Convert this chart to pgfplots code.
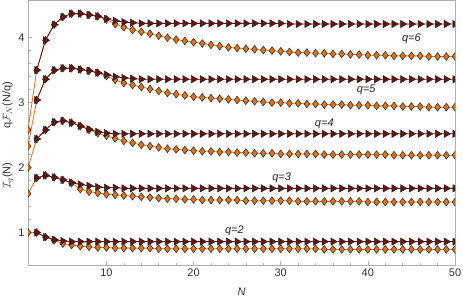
\documentclass[border=0pt]{standalone}
\usepackage{fontspec}
\setmainfont{Liberation Sans}
\usepackage{pgfplots}
\usepackage{pgfplotstable}
\pgfplotsset{compat=1.18}
\definecolor{tri}{RGB}{105,18,12}
\definecolor{dia}{RGB}{225,115,20}
\definecolor{framec}{RGB}{175,175,175}
\pgfplotstableread{
N T2 D2 T3 D3 T4 D4 T5 D5 T6 D6
1 nan 1.00 nan 1.60 nan 2.00 nan 2.33 nan 2.58
2 1.00 1.00 1.84 1.84 2.44 2.44 3.04 3.04 3.50 3.50
3 0.93 0.93 1.88 1.88 2.58 2.58 3.36 3.36 3.96 3.96
4 0.89 0.88 1.85 1.85 2.70 2.70 3.50 3.50 4.20 4.20
5 0.87 0.83 1.81 1.81 2.72 2.72 3.53 3.53 4.32 4.32
6 0.86 0.81 1.77 1.76 2.69 2.69 3.53 3.53 4.37 4.37
7 0.86 0.79 1.74 1.67 2.64 2.64 3.51 3.51 4.37 4.37
8 0.86 0.78 1.72 1.63 2.59 2.58 3.49 3.49 4.35 4.35
9 0.86 0.77 1.70 1.61 2.55 2.53 3.46 3.46 4.33 4.33
10 0.86 0.77 1.69 1.59 2.53 2.49 3.43 3.41 4.29 4.28
11 0.86 0.76 1.69 1.58 2.52 2.45 3.40 3.35 4.26 4.21
12 0.86 0.76 1.68 1.57 2.52 2.41 3.38 3.30 4.24 4.16
13 0.86 0.76 1.68 1.56 2.52 2.38 3.37 3.27 4.23 4.12
14 0.86 0.76 1.68 1.55 2.52 2.35 3.36 3.24 4.22 4.09
15 0.86 0.76 1.68 1.54 2.52 2.33 3.36 3.21 4.22 4.06
16 0.86 0.75 1.68 1.53 2.52 2.31 3.36 3.18 4.22 4.03
17 0.86 0.75 1.68 1.52 2.52 2.29 3.36 3.15 4.22 4.00
18 0.86 0.75 1.68 1.52 2.52 2.28 3.36 3.13 4.22 3.97
19 0.86 0.75 1.68 1.51 2.52 2.27 3.36 3.11 4.22 3.95
20 0.86 0.75 1.68 1.51 2.52 2.26 3.36 3.09 4.22 3.93
21 0.86 0.75 1.68 1.50 2.52 2.25 3.36 3.08 4.22 3.91
22 0.86 0.75 1.68 1.50 2.52 2.25 3.36 3.07 4.22 3.89
23 0.86 0.75 1.68 1.50 2.52 2.24 3.36 3.06 4.22 3.87
24 0.86 0.75 1.68 1.50 2.52 2.24 3.36 3.05 4.22 3.85
25 0.86 0.75 1.68 1.50 2.52 2.23 3.36 3.04 4.22 3.84
26 0.86 0.75 1.68 1.49 2.52 2.23 3.36 3.03 4.22 3.83
27 0.86 0.75 1.68 1.49 2.52 2.22 3.36 3.02 4.22 3.82
28 0.86 0.75 1.68 1.49 2.52 2.22 3.36 3.01 4.22 3.81
29 0.86 0.75 1.68 1.49 2.52 2.22 3.36 3.00 4.22 3.80
30 0.86 0.75 1.68 1.49 2.52 2.21 3.36 3.00 4.22 3.79
31 0.86 0.75 1.68 1.49 2.52 2.21 3.36 2.99 4.21 3.78
32 0.86 0.75 1.68 1.48 2.52 2.21 3.36 2.99 4.21 3.77
33 0.86 0.75 1.68 1.48 2.52 2.21 3.36 2.98 4.21 3.77
34 0.86 0.75 1.68 1.48 2.52 2.21 3.36 2.98 4.21 3.76
35 0.86 0.74 1.68 1.48 2.52 2.20 3.36 2.97 4.21 3.76
36 0.86 0.74 1.68 1.48 2.52 2.20 3.36 2.97 4.21 3.75
37 0.86 0.74 1.68 1.48 2.52 2.20 3.36 2.97 4.21 3.75
38 0.86 0.74 1.68 1.48 2.52 2.20 3.36 2.96 4.21 3.74
39 0.86 0.74 1.68 1.48 2.52 2.20 3.36 2.96 4.21 3.74
40 0.86 0.74 1.68 1.47 2.52 2.20 3.36 2.96 4.21 3.73
41 0.86 0.74 1.68 1.47 2.52 2.20 3.36 2.95 4.21 3.73
42 0.86 0.74 1.68 1.47 2.52 2.20 3.36 2.95 4.21 3.73
43 0.86 0.74 1.68 1.47 2.52 2.19 3.36 2.95 4.21 3.72
44 0.86 0.74 1.68 1.47 2.52 2.19 3.36 2.94 4.21 3.72
45 0.86 0.74 1.68 1.47 2.52 2.19 3.36 2.94 4.21 3.72
46 0.86 0.74 1.68 1.47 2.52 2.19 3.36 2.94 4.21 3.72
47 0.86 0.74 1.68 1.47 2.52 2.19 3.36 2.93 4.21 3.71
48 0.86 0.74 1.68 1.47 2.52 2.19 3.36 2.93 4.21 3.71
49 0.86 0.74 1.68 1.47 2.52 2.19 3.36 2.93 4.21 3.71
50 0.86 0.74 1.68 1.47 2.52 2.19 3.36 2.93 4.21 3.71
}\data
\begin{document}
\begin{tikzpicture}
\begin{axis}[
  scale only axis, width=427pt, height=265pt,
  xmin=1, xmax=50, ymin=0.5, ymax=4.58,
  clip marker paths=true,
  axis line style={framec, line width=0.9pt},
  xtick={10,20,30,40,50}, ytick={1,2,3,4},
  minor x tick num=4, minor y tick num=4,
  tick align=inside, tick pos=left,
  major tick length=4pt, minor tick length=2.5pt,
  every tick/.style={framec, line width=0.6pt},
  /pgf/number format/assume math mode=true,
  tick label style={font=\fontsize{11}{13}\selectfont, text=black!80},
  xlabel={\textit{N}},
  xlabel style={at={(axis description cs:0.5,-0.1)}, anchor=center, font=\fontsize{11}{13}\selectfont, text=black!80},
  ylabel={$\mathcal{I}_q$(N)\hspace{34pt}q$\mathcal{F}_N$(N/q)},
  ylabel style={at={(axis description cs:-0.047,0.49)}, anchor=center, font=\fontsize{11}{13}\selectfont, text=black!80},
  diam/.style={dia, line width=0.8pt, mark=diamond*, mark size=3.9pt, mark options={fill=dia, draw=black!85, line width=0.5pt}},
  tria/.style={tri, line width=0.8pt, mark=triangle*, mark size=4.2pt, mark options={rotate=-90, fill=tri, draw=black!85, line width=0.5pt}},
]
\addplot[diam] table[x=N, y=D2] {\data};
\addplot[diam] table[x=N, y=D3] {\data};
\addplot[diam] table[x=N, y=D4] {\data};
\addplot[diam] table[x=N, y=D5] {\data};
\addplot[diam] table[x=N, y=D6] {\data};
\addplot[tria] table[x=N, y=T2] {\data};
\addplot[tria] table[x=N, y=T3] {\data};
\addplot[tria] table[x=N, y=T4] {\data};
\addplot[tria] table[x=N, y=T5] {\data};
\addplot[tria] table[x=N, y=T6] {\data};
\node[font=\fontsize{11}{13}\selectfont\itshape, text=black!85] at (axis cs:45,3.98) {q=6};
\node[font=\fontsize{11}{13}\selectfont\itshape, text=black!85] at (axis cs:39.8,3.20) {q=5};
\node[font=\fontsize{11}{13}\selectfont\itshape, text=black!85] at (axis cs:35,2.68) {q=4};
\node[font=\fontsize{11}{13}\selectfont\itshape, text=black!85] at (axis cs:30.1,1.85) {q=3};
\node[font=\fontsize{11}{13}\selectfont\itshape, text=black!85] at (axis cs:24.7,1.02) {q=2};
\end{axis}
\pgfresetboundingbox
\path[use as bounding box] (current axis.south west) ++(-28pt,-35pt) rectangle ([xshift=8pt]current axis.north east);
\end{tikzpicture}
\end{document}
